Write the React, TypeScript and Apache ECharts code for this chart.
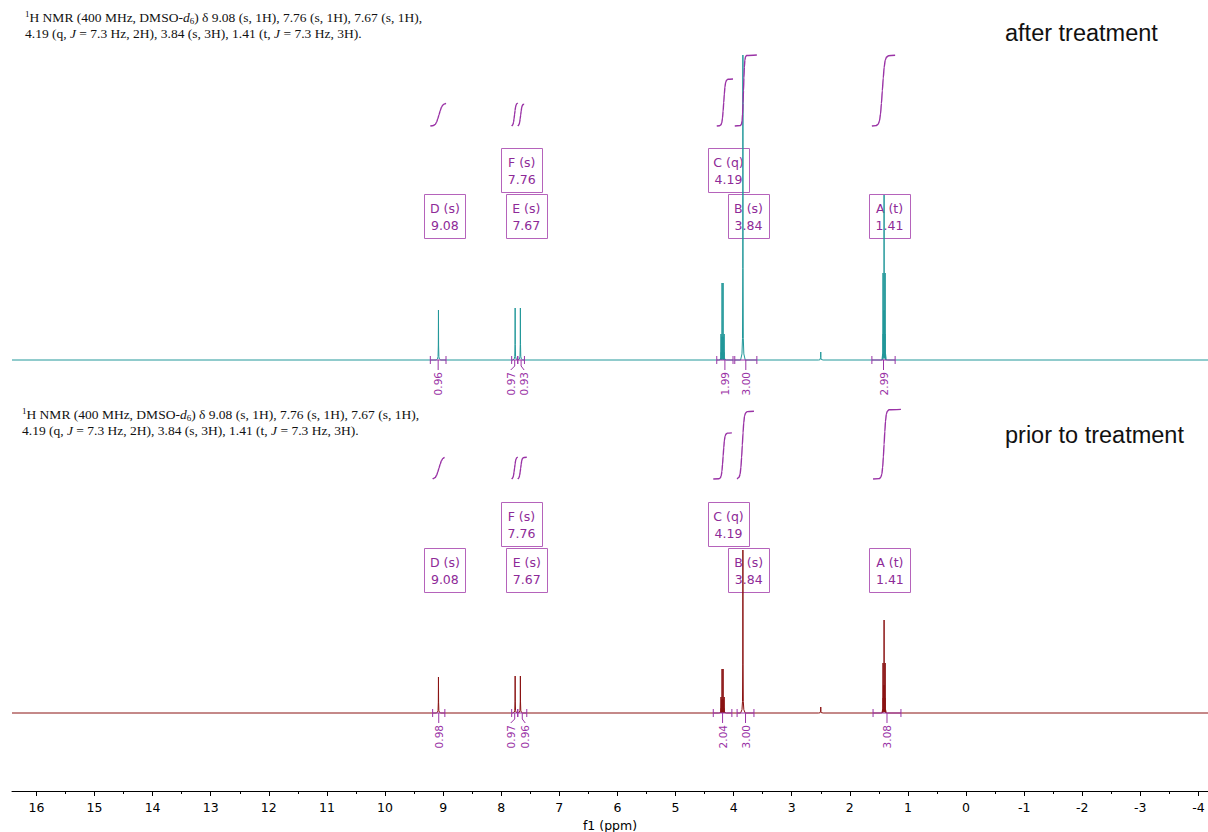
import React, { useEffect, useRef } from "react";
import * as echarts from "echarts";

// ---- chemical-shift axis (ppm, drawn high → low) ----
const PPM_MAX = 16.42;
const PPM_MIN = -4.165;
const TICK_LABELS = [16, 15, 14, 13, 12, 11, 10, 9, 8, 7, 6, 5, 4, 3, 2, 1, 0, -1, -2, -3, -4];
const MINOR_TICKS = [15.5, 14.5, 13.5, 12.5, 11.5, 10.5, 9.5, 8.5, 7.5, 6.5, 5.5, 4.5, 3.5, 2.5, 1.5, 0.5, -0.5, -1.5, -2.5, -3.5];

// ---- multiplet report ----
const MULT_NAMES = ["D", "F", "E", "C", "B", "A"];
const MULT_KINDS = ["s", "s", "s", "q", "s", "t"];
const MULT_SHIFTS = [9.08, 7.76, 7.67, 4.19, 3.84, 1.41];

// ---- peak lists: line positions (ppm) and heights (a.u.) ----
const AFTER_PEAK_PPM = [9.08, 7.76, 7.67, 4.217, 4.199, 4.181, 4.163, 3.84, 2.5, 1.428, 1.41, 1.392];
const AFTER_PEAK_INT = [50, 52, 52, 26, 77, 77, 26, 305, 8, 87, 165, 87];
const PRIOR_PEAK_PPM = [9.08, 7.76, 7.67, 4.217, 4.199, 4.181, 4.163, 3.84, 2.5, 1.428, 1.41, 1.392];
const PRIOR_PEAK_INT = [36, 37, 37, 16, 44, 44, 16, 163, 6, 50, 93, 50];

// ---- integrals (same order as the multiplets) ----
const AFTER_INT_FROM = [9.22, 7.82, 7.715, 4.29, 3.98, 1.62];
const AFTER_INT_TO = [8.95, 7.715, 7.6, 4.01, 3.6, 1.22];
const AFTER_INT_VALUE = [0.96, 0.97, 0.93, 1.99, 3.0, 2.99];
const PRIOR_INT_FROM = [9.18, 7.82, 7.715, 4.35, 3.94, 1.6];
const PRIOR_INT_TO = [8.97, 7.715, 7.56, 4.03, 3.65, 1.12];
const PRIOR_INT_VALUE = [0.98, 0.97, 0.96, 2.04, 3.0, 3.08];

// ---- layout / style ----
const AFTER_RISE_AT = [9.07, 7.77, 7.665, 4.17, 3.83, 1.44];
const AFTER_RISE_HW = [0.06, 0.025, 0.025, 0.03, 0.022, 0.045];
const PRIOR_RISE_AT = [9.07, 7.77, 7.665, 4.18, 3.85, 1.41];
const PRIOR_RISE_HW = [0.06, 0.025, 0.025, 0.03, 0.035, 0.035];
const INT_LABEL_SHIFT = [0, -4, 3, 0, 0, 0];
const AFTER_BOX_AT = [[8.97, 144], [7.647, 190], [7.568, 144], [4.088, 190], [3.744, 144], [1.317, 144]];
const PRIOR_BOX_AT = [[8.97, 143.5], [7.652, 189], [7.561, 143.5], [4.088, 189], [3.74, 143.5], [1.31, 143.5]];

const TEAL = "#23989a";
const DARK_RED = "#8a1212";
const PURPLE = "#9a33a6";
const BOX_BORDER = "#b563bb";
const BOX_TEXT = "#8e2a98";
const UI_FONT = "DejaVu Sans";
const SERIF = "Liberation Serif";

// grid geometry (px): top panel 20..400, bottom panel 371..791
const G0_TOP = 20, G0_H = 380;
const G1_TOP = 371, G1_H = 420;
const INT0_BASE = 126, INT0_PXH = 23.65;
const INT1_BASE = 479, INT1_PXH = 22.6;

// narrow line shape: [ppm offset, fraction of height]
const LINESHAPE = [
  [0.04, 0], [0.016, 0.02], [0.007, 0.07], [0.0025, 0.3], [0, 1],
  [-0.0025, 0.3], [-0.007, 0.07], [-0.016, 0.02], [-0.04, 0],
];

// S-shape of a running integral: [fraction of value, multiple of rise half-width]
const CURVE_STEPS = [
  [0.006, 2.4], [0.025, 1.6], [0.07, 1.1], [0.17, 0.7], [0.32, 0.35], [0.5, 0],
  [0.68, -0.35], [0.83, -0.7], [0.93, -1.1], [0.975, -1.6], [0.994, -2.4],
];

const NMR_TEXT =
  "{sup|1}H NMR (400 MHz, DMSO-{it|d}{sub|6}) δ 9.08 (s, 1H), 7.76 (s, 1H), 7.67 (s, 1H),\n" +
  "4.19 (q, {it|J} = 7.3 Hz, 2H), 3.84 (s, 3H), 1.41 (t, {it|J} = 7.3 Hz, 3H).";

function buildTrace(ppm: number[], inten: number[]) {
  const pts: number[][] = [[PPM_MAX, 0], [PPM_MIN, 0]];
  ppm.forEach((p, i) => {
    LINESHAPE.forEach(([dx, f]) => pts.push([p + dx, inten[i] * f]));
  });
  pts.sort((a, b) => b[0] - a[0]);
  return pts;
}

function integralCurves(from: number[], to: number[], vals: number[], at: number[], hw: number[], xAxisIndex: number, yAxisIndex: number) {
  return from.map((f, i) => {
    const inner = CURVE_STEPS
      .map(([fr, k]) => [at[i] + k * hw[i], fr * vals[i]])
      .filter((p) => p[0] < f && p[0] > to[i]);
    return {
      type: "line",
      xAxisIndex,
      yAxisIndex,
      silent: true,
      showSymbol: false,
      smooth: 0.25,
      smoothMonotone: "x",
      z: 4,
      lineStyle: { color: PURPLE, width: 1.4 },
      data: [[f, 0], ...inner, [to[i], vals[i]]],
    };
  });
}

function integralMarks(from: number[], to: number[], vals: number[], xAxisIndex: number, yAxisIndex: number) {
  return {
    type: "custom",
    xAxisIndex,
    yAxisIndex,
    silent: true,
    z: 5,
    data: from.map((f, i) => [f, to[i], vals[i], INT_LABEL_SHIFT[i]]),
    renderItem: (_params: any, api: any) => {
      const a = api.coord([api.value(0), 0]);
      const b = api.coord([api.value(1), 0]);
      const y = a[1];
      const cx = (a[0] + b[0]) / 2;
      const lx = cx + api.value(3);
      const st = { stroke: PURPLE, lineWidth: 1, fill: "none" };
      return {
        type: "group",
        children: [
          { type: "line", shape: { x1: a[0], y1: y, x2: b[0], y2: y }, style: st },
          { type: "line", shape: { x1: a[0], y1: y - 4, x2: a[0], y2: y + 4 }, style: st },
          { type: "line", shape: { x1: b[0], y1: y - 4, x2: b[0], y2: y + 4 }, style: st },
          { type: "polyline", shape: { points: [[cx, y], [cx, y + 6], [lx, y + 10]] }, style: st },
          {
            type: "text",
            x: lx,
            y: y + 12,
            rotation: Math.PI / 2,
            style: {
              text: Number(api.value(2)).toFixed(2),
              align: "right",
              verticalAlign: "middle",
              fill: PURPLE,
              fontSize: 10.5,
              fontFamily: UI_FONT,
            },
          },
        ],
      };
    },
  };
}

function multipletBoxes(boxAt: number[][], xAxisIndex: number, yAxisIndex: number) {
  return {
    type: "custom",
    xAxisIndex,
    yAxisIndex,
    silent: true,
    z: 1,
    data: boxAt.map((p) => [p[0], p[1]]),
    renderItem: (params: any, api: any) => {
      const c = api.coord([api.value(0), api.value(1)]);
      const i = params.dataIndex;
      return {
        type: "group",
        children: [
          {
            type: "rect",
            shape: { x: Math.round(c[0] - 20.5) + 0.5, y: Math.round(c[1] - 22) + 0.5, width: 41, height: 44 },
            style: { fill: "none", stroke: BOX_BORDER, lineWidth: 1 },
          },
          {
            type: "text",
            x: c[0],
            y: c[1] + 1,
            style: {
              text: `${MULT_NAMES[i]} (${MULT_KINDS[i]})\n${MULT_SHIFTS[i].toFixed(2)}`,
              align: "center",
              verticalAlign: "middle",
              fill: BOX_TEXT,
              fontSize: 12.5,
              fontFamily: UI_FONT,
              lineHeight: 17,
            },
          },
        ],
      };
    },
  };
}

const RICH = {
  sup: { fontSize: 9, fontFamily: SERIF, verticalAlign: "top", lineHeight: 10, fill: "#111" },
  sub: { fontSize: 9, fontFamily: SERIF, verticalAlign: "bottom", lineHeight: 10, fill: "#111" },
  it: { fontSize: 13.5, fontFamily: SERIF, fontStyle: "italic", fill: "#111" },
};

function reportText(x: number, y: number) {
  return {
    type: "text",
    x,
    y,
    silent: true,
    style: {
      text: NMR_TEXT,
      fontSize: 13.5,
      fontFamily: SERIF,
      fill: "#111",
      lineHeight: 16,
      rich: RICH,
    },
  };
}

function titleText(text: string, x: number, y: number) {
  return {
    type: "text",
    x,
    y,
    silent: true,
    style: { text, fontSize: 23.5, fontFamily: "Liberation Sans", fill: "#111", verticalAlign: "middle" },
  };
}

function buildOption() {
  const ppmAxis = { type: "value", min: PPM_MIN, max: PPM_MAX, inverse: true };
  return {
    animation: false,
    backgroundColor: "#ffffff",
    grid: [
      { left: 12, width: 1196, top: G0_TOP, height: G0_H, outerBoundsMode: "none" },
      { left: 12, width: 1196, top: G1_TOP, height: G1_H, outerBoundsMode: "none" },
    ],
    xAxis: [
      { ...ppmAxis, gridIndex: 0, show: false },
      {
        ...ppmAxis,
        gridIndex: 1,
        position: "bottom",
        axisLine: { show: true, onZero: false, lineStyle: { color: "#000", width: 1 } },
        axisTick: { show: true, customValues: TICK_LABELS, length: 5, lineStyle: { color: "#000" } },
        axisLabel: {
          customValues: TICK_LABELS,
          fontSize: 12.5,
          fontFamily: UI_FONT,
          color: "#000",
          margin: 10,
          formatter: (v: number) => String(v),
        },
        splitLine: { show: false },
        name: "f1 (ppm)",
        nameLocation: "middle",
        nameGap: 24,
        nameTextStyle: { fontSize: 12.5, fontFamily: UI_FONT, color: "#000" },
      },
      {
        ...ppmAxis,
        gridIndex: 1,
        position: "bottom",
        axisLine: { show: false, onZero: false },
        axisTick: { show: true, customValues: MINOR_TICKS, length: 3, lineStyle: { color: "#000" } },
        axisLabel: { show: false },
        splitLine: { show: false },
      },
    ],
    yAxis: [
      { type: "value", gridIndex: 0, min: -40, max: 340, show: false },
      { type: "value", gridIndex: 1, min: -78, max: 342, show: false },
      { type: "value", gridIndex: 0, min: -(G0_TOP + G0_H - INT0_BASE) / INT0_PXH, max: (INT0_BASE - G0_TOP) / INT0_PXH, show: false },
      { type: "value", gridIndex: 1, min: -(G1_TOP + G1_H - INT1_BASE) / INT1_PXH, max: (INT1_BASE - G1_TOP) / INT1_PXH, show: false },
    ],
    graphic: [
      reportText(25, 9),
      reportText(22, 406),
      titleText("after treatment", 1005, 33),
      titleText("prior to treatment", 1005, 435),
    ],
    series: [
      multipletBoxes(AFTER_BOX_AT, 0, 0),
      multipletBoxes(PRIOR_BOX_AT, 1, 1),
      {
        type: "line",
        xAxisIndex: 0,
        yAxisIndex: 0,
        silent: true,
        showSymbol: false,
        z: 3,
        lineStyle: { color: TEAL, width: 1 },
        data: buildTrace(AFTER_PEAK_PPM, AFTER_PEAK_INT),
      },
      {
        type: "line",
        xAxisIndex: 1,
        yAxisIndex: 1,
        silent: true,
        showSymbol: false,
        z: 3,
        lineStyle: { color: DARK_RED, width: 1 },
        data: buildTrace(PRIOR_PEAK_PPM, PRIOR_PEAK_INT),
      },
      ...integralCurves(AFTER_INT_FROM, AFTER_INT_TO, AFTER_INT_VALUE, AFTER_RISE_AT, AFTER_RISE_HW, 0, 2),
      ...integralCurves(PRIOR_INT_FROM, PRIOR_INT_TO, PRIOR_INT_VALUE, PRIOR_RISE_AT, PRIOR_RISE_HW, 1, 3),
      integralMarks(AFTER_INT_FROM, AFTER_INT_TO, AFTER_INT_VALUE, 0, 0),
      integralMarks(PRIOR_INT_FROM, PRIOR_INT_TO, PRIOR_INT_VALUE, 1, 1),
    ],
  };
}

export default function App() {
  const ref = useRef<HTMLDivElement>(null);
  useEffect(() => {
    document.body.style.margin = "0";
    const chart = echarts.init(ref.current as HTMLDivElement, null, { renderer: "svg" });
    chart.setOption(buildOption() as any);
    return () => chart.dispose();
  }, []);
  return <div ref={ref} style={{ width: 1208, height: 832 }} />;
}
